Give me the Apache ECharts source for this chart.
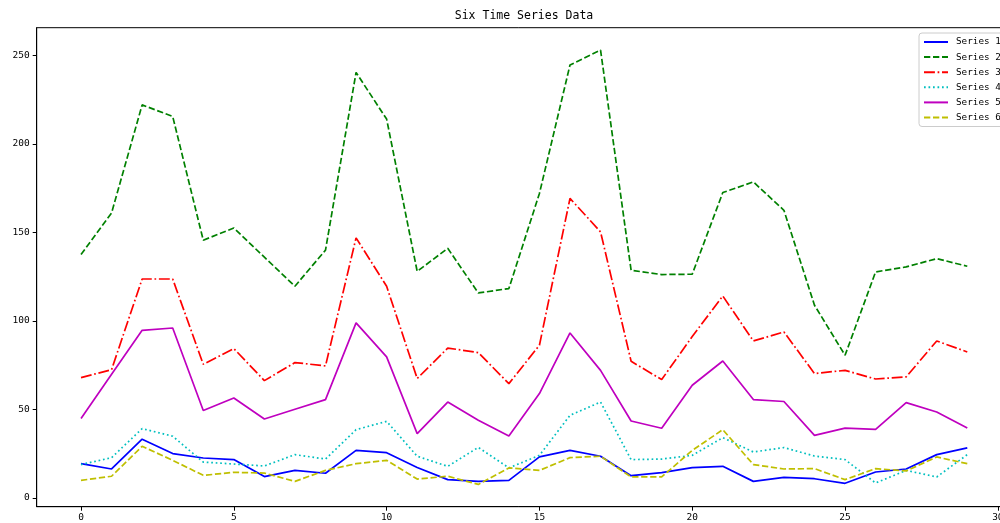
<!DOCTYPE html>
<html>
<head>
<meta charset="utf-8">
<script src="https://cdn.jsdelivr.net/npm/echarts@6/dist/echarts.min.js"></script>
<style>
  html, body { margin: 0; padding: 0; background: #fff; }
  #chart { width: 1000px; height: 523px; }
</style>
</head>
<body>
<div id="chart"></div>
<script>
// Time steps along the x axis
const steps = Array.from({ length: 30 }, (_, i) => i);

// Values of the six series, one per time step
const series1 = [19.4, 16.4, 33.2, 25.1, 22.6, 21.7, 12.1, 15.6, 14.0, 26.9,
                 25.6, 17.2, 10.4, 9.4, 10.0, 23.2, 26.9, 23.6, 12.6, 14.3,
                 17.2, 17.9, 9.4, 11.7, 10.9, 8.3, 14.7, 16.4, 24.5, 28.3];
const series2 = [137.5, 161, 222, 215.5, 145.6, 152.5, 136, 119.6, 140, 240.3,
                 214, 128, 141, 115.8, 118.3, 172, 244.5, 253, 128.6, 126.2,
                 126.4, 172.5, 178.5, 162.5, 108.9, 80.6, 127.7, 130.5, 135.2, 130.9];
const series3 = [68, 72.5, 123.7, 123.7, 75.5, 84.4, 66.3, 76.5, 74.6, 146.9,
                 119.6, 67.5, 84.7, 82.1, 64.6, 86.3, 169.2, 150.3, 77.2, 66.9,
                 91.2, 114.1, 88.7, 93.8, 70.3, 72.1, 67.2, 68.4, 88.7, 82.5];
const series4 = [18.9, 22.8, 39.2, 34.9, 20.3, 19.2, 18.1, 24.5, 22.0, 38.6,
                 43.3, 23.6, 17.9, 28.6, 17.0, 24.1, 46.7, 54.2, 21.7, 22.0,
                 24.1, 34.1, 26.0, 28.5, 23.7, 21.7, 8.5, 15.6, 11.9, 24.5];
const series5 = [44.9, 69.9, 94.7, 96.0, 49.4, 56.5, 44.6, 50.1, 55.6, 98.9,
                 79.7, 36.4, 54.2, 43.9, 35.0, 59.0, 93.2, 72.1, 43.5, 39.4,
                 63.7, 77.4, 55.6, 54.5, 35.4, 39.5, 38.8, 53.9, 48.6, 39.5];
const series6 = [10.0, 12.3, 29.2, 21.3, 12.8, 14.5, 14.1, 9.4, 15.6, 19.4,
                 21.3, 10.7, 12.3, 7.7, 17.0, 15.6, 22.8, 23.6, 11.9, 11.9,
                 26.9, 38.6, 18.9, 16.4, 16.6, 10.4, 16.6, 15.3, 23.2, 19.4];

const seriesNames = ['Series 1', 'Series 2', 'Series 3', 'Series 4', 'Series 5', 'Series 6'];
const xTicks = [0, 5, 10, 15, 20, 25, 30];
const yTicks = [0, 50, 100, 150, 200, 250];

const FONT = 'DejaVu Sans Mono';
const LW = 1.7;

const styles = [
  { color: '#0000ff', type: 'solid' },
  { color: '#008000', type: [6.3, 2.7] },
  { color: '#ff0000', type: [10.9, 2.7, 1.7, 2.7] },
  { color: '#00bfbf', type: [1.7, 2.8] },
  { color: '#bf00bf', type: 'solid' },
  { color: '#bfbf00', type: [6.3, 2.7] }
];

const values = [series1, series2, series3, series4, series5, series6];

const chart = echarts.init(document.getElementById('chart'), null, { renderer: 'canvas' });

chart.setOption({
  animation: false,
  backgroundColor: '#ffffff',
  title: {
    text: 'Six Time Series Data',
    left: 524,
    textAlign: 'center',
    top: 10,
    padding: 0,
    textStyle: { fontFamily: FONT, fontSize: 11.5, fontWeight: 'normal', color: '#000' }
  },
  legend: {
    orient: 'vertical',
    left: 919,
    top: 33,
    padding: [4, 4, 4, 4],
    itemWidth: 24,
    itemHeight: 10,
    itemGap: 5.1,
    backgroundColor: 'rgba(255,255,255,0.8)',
    borderColor: '#cccccc',
    borderWidth: 1,
    borderRadius: 3,
    // line samples only, no marker dot
    itemStyle: { opacity: 0 },
    textStyle: { fontFamily: FONT, fontSize: 9.3, color: '#000', lineHeight: 10, padding: [0, 0, 0, 3] },
    data: seriesNames
  },
  grid: {
    left: 36.7,
    top: 27.7,
    bottom: 16.3,
    right: -11.6,
    show: true,
    borderColor: '#000',
    borderWidth: 1,
    containLabel: false,
    outerBoundsMode: 'none'
  },
  xAxis: {
    type: 'value',
    min: -1.45,
    max: 30.45,
    axisLine: { show: true, onZero: false, lineStyle: { color: '#000', width: 1 } },
    axisTick: { show: true, length: 4, customValues: xTicks, lineStyle: { color: '#000' } },
    axisLabel: { customValues: xTicks, margin: 6, fontFamily: FONT, fontSize: 9.5, color: '#000' },
    splitLine: { show: false }
  },
  yAxis: {
    type: 'value',
    min: -4.9,
    max: 265.6,
    axisLine: { show: true, onZero: false, lineStyle: { color: '#000', width: 1 } },
    axisTick: { show: true, length: 4, customValues: yTicks, lineStyle: { color: '#000' } },
    axisLabel: { customValues: yTicks, margin: 7, fontFamily: FONT, fontSize: 9.5, color: '#000' },
    splitLine: { show: false }
  },
  series: values.map((vals, k) => ({
    name: seriesNames[k],
    type: 'line',
    symbol: 'none',
    showSymbol: false,
    color: styles[k].color,
    lineStyle: { color: styles[k].color, width: LW, type: styles[k].type },
    data: steps.map((x, i) => [x, vals[i]])
  }))
});
</script>
</body>
</html>
